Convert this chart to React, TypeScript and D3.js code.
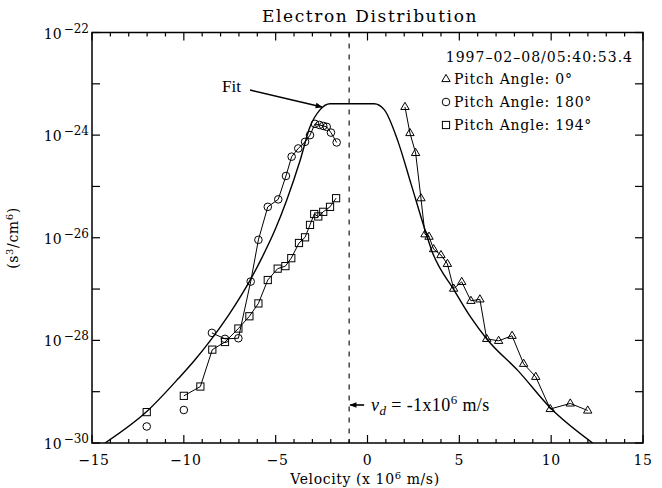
import * as d3 from "d3";

// velocity in 10^6 m/s, phase space density in s^3/cm^6
const pa0V = [2.04, 2.31, 2.62, 2.91, 3.13, 3.35, 3.6, 4.0, 4.35, 4.69, 5.13, 5.63, 6.12, 6.49, 7.14, 7.87, 8.5, 9.16, 9.95, 11.04, 11.99];
const pa0F = [3.55e-24, 1.1e-24, 4.5e-25, 5.9e-26, 1.17e-26, 1.05e-26, 6.0e-27, 4.6e-27, 3.1e-27, 1.02e-27, 1.38e-27, 5.9e-28, 6.3e-28, 1.07e-28, 9.8e-29, 1.23e-28, 3.5e-29, 1.95e-29, 4.6e-30, 5.9e-30, 4.3e-30];

const pa180V = [-12.02, -10.0, -8.47, -7.76, -7.03, -6.36, -5.94, -5.43, -4.86, -4.44, -4.13, -3.77, -3.4, -3.13, -2.86, -2.62, -2.41, -2.22, -1.99, -1.68];
const pa180F = [2.1e-30, 4.4e-30, 1.4e-28, 1.07e-28, 1.1e-28, 1.4e-27, 9.1e-27, 4.0e-26, 5.6e-26, 1.6e-25, 3.8e-25, 5.5e-25, 7.4e-25, 1.0e-24, 1.66e-24, 1.58e-24, 1.51e-24, 1.45e-24, 1.12e-24, 7.2e-25];
const pa180LineFrom = 2; // first two points are not joined

const pa194V = [-12.02, -10.0, -9.1, -8.45, -7.76, -7.03, -6.43, -5.94, -5.43, -4.89, -4.47, -4.15, -3.73, -3.4, -3.13, -2.9, -2.68, -2.41, -2.04, -1.71];
const pa194F = [4.0e-30, 8.3e-30, 1.26e-29, 6.6e-29, 9.3e-29, 1.7e-28, 2.95e-28, 5.25e-28, 1.5e-27, 2.5e-27, 2.8e-27, 4.0e-27, 7.9e-27, 1.02e-26, 1.78e-26, 2.9e-26, 2.6e-26, 3.2e-26, 4.0e-26, 5.9e-26];
const pa194LineFrom = 1;

const fitV = [-14.29, -12.02, -10.3, -9.39, -8.57, -7.58, -6.85, -6.38, -5.76, -5.04, -4.4, -3.67, -3.13, -2.59, -2.04, -1.0, 0.36, 0.92, 1.64, 2.37, 3.09, 3.5, 4.72, 5.6, 6.54, 8.18, 9.99, 12.26];
const fitF = [1.0e-30, 4.1e-30, 1.8e-29, 4.2e-29, 9.8e-29, 3.05e-28, 7.8e-28, 1.51e-27, 4.0e-27, 1.41e-26, 5.4e-26, 3.2e-25, 1.45e-24, 3.1e-24, 4.1e-24, 4.1e-24, 4.1e-24, 3.1e-24, 7.9e-25, 1.12e-25, 1.58e-26, 5.6e-27, 9.5e-28, 2.9e-28, 1.02e-28, 2.6e-29, 4.7e-30, 1.0e-30];

const driftV = -1;
const xMajor = [-15, -10, -5, 0, 5, 10, 15];
const xMajorLabels = ["\u221215", "\u221210", "\u22125", "0", "5", "10", "15"];
const yDecades = [-30, -29, -28, -27, -26, -25, -24, -23, -22];
const yLabelled = [-30, -28, -26, -24, -22];

const legendLabels = ["Pitch Angle: 0\u00b0", "Pitch Angle: 180\u00b0", "Pitch Angle: 194\u00b0"];

const width = 662;
const height = 488;
const left = 92;
const right = 643;
const top = 32.5;
const bottom = 443;
const serif = "'DejaVu Serif', serif";
const times = "'Liberation Serif', serif";

function Marker({ kind, cx, cy }: { kind: string; cx: number; cy: number }) {
  if (kind === "tri")
    return <path d={`M${cx},${cy - 4.6}L${cx + 4.2},${cy + 2.6}L${cx - 4.2},${cy + 2.6}Z`} />;
  if (kind === "circ") return <circle cx={cx} cy={cy} r={3.8} />;
  return <rect x={cx - 3.6} y={cy - 3.6} width={7.2} height={7.2} />;
}

export default function App() {
  const x = d3.scaleLinear([-15, 15], [left, right]);
  const y = d3.scaleLog([1e-30, 1e-22], [bottom, top]);

  const line = d3
    .line<[number, number]>()
    .x((d) => x(d[0]))
    .y((d) => y(d[1]));
  const fitLine = d3
    .line<[number, number]>()
    .x((d) => x(d[0]))
    .y((d) => y(d[1]))
    .curve(d3.curveMonotoneX);

  const zip = (a: number[], b: number[]) => a.map((v, i) => [v, b[i]] as [number, number]);
  const pa0 = zip(pa0V, pa0F);
  const pa180 = zip(pa180V, pa180F);
  const pa194 = zip(pa194V, pa194F);
  const fit = zip(fitV, fitF);

  const minor = d3.range(-15, 16, 1);
  const xd = x(driftV);

  return (
    <svg
      width={width}
      height={height}
      style={{ position: "absolute", left: 0, top: 0, background: "#fff" }}
    >
      <defs>
        <clipPath id="plot">
          <rect x={left} y={top} width={right - left} height={bottom - top} />
        </clipPath>
        <marker id="head" viewBox="0 0 10 10" refX="9" refY="5" markerWidth="10" markerHeight="7" orient="auto" markerUnits="userSpaceOnUse">
          <path d="M0,1L10,5L0,9Z" fill="#000" />
        </marker>
      </defs>

      <text x={370} y={22} textAnchor="middle" fontFamily={serif} fontSize={17} letterSpacing={1.6}>
        Electron Distribution
      </text>

      {/* ticks */}
      <g stroke="#000" strokeWidth={1.2}>
        {minor.map((v) => {
          const len = v % 5 === 0 ? 8 : 4;
          return (
            <g key={v}>
              <line x1={x(v)} x2={x(v)} y1={bottom} y2={bottom - len} />
              <line x1={x(v)} x2={x(v)} y1={top} y2={top + len} />
            </g>
          );
        })}
        {yDecades.map((e) => (
          <g key={e}>
            <line x1={left} x2={left + 8} y1={y(Math.pow(10, e))} y2={y(Math.pow(10, e))} />
            <line x1={right} x2={right - 8} y1={y(Math.pow(10, e))} y2={y(Math.pow(10, e))} />
          </g>
        ))}
      </g>

      {/* frame */}
      <rect x={left} y={top} width={right - left} height={bottom - top} fill="none" stroke="#000" strokeWidth={1.5} />

      {/* tick labels */}
      <g fontFamily={serif} fontSize={14} textAnchor="middle" letterSpacing={0.5}>
        {xMajor.map((v, i) => (
          <text key={v} x={x(v) + (v < 0 ? 2 : 0)} y={465}>
            {xMajorLabels[i]}
          </text>
        ))}
      </g>
      <g fontFamily={serif} textAnchor="end">
        {yLabelled.map((e) => (
          <text key={e} x={89} y={y(Math.pow(10, e)) + 6}>
            <tspan fontSize={14}>10</tspan>
            <tspan fontSize={12} dy={-6} dx={2}>
              {"\u2212" + Math.abs(e)}
            </tspan>
          </text>
        ))}
      </g>

      {/* axis titles */}
      <text x={365} y={484} textAnchor="middle" fontFamily={serif} fontSize={14} letterSpacing={0.6}>
        Velocity (x 10
        <tspan fontSize={10} dy={-5}>6</tspan>
        <tspan dy={5}> m/s)</tspan>
      </text>
      <text
        transform="translate(18,238) rotate(-90)"
        textAnchor="middle"
        fontFamily={serif}
        fontSize={14}
        letterSpacing={0.6}
      >
        (s<tspan fontSize={10} dy={-5}>3</tspan>
        <tspan dy={5}>/cm</tspan>
        <tspan fontSize={10} dy={-5}>6</tspan>
        <tspan dy={5}>)</tspan>
      </text>

      {/* drift velocity */}
      <line x1={xd} x2={xd} y1={top} y2={bottom} stroke="#000" strokeWidth={1.1} strokeDasharray="5,6" />
      <line x1={xd + 15} x2={xd + 1} y1={405} y2={405} stroke="#000" strokeWidth={1.6} markerEnd="url(#head)" />
      <text x={371} y={411} fontFamily={times} fontSize={18} letterSpacing={0.4}>
        <tspan fontStyle="italic">v</tspan>
        <tspan fontStyle="italic" fontSize={13} dy={4}>d</tspan>
        <tspan dy={-4}> = -1x10</tspan>
        <tspan fontSize={13} dy={-7}>6</tspan>
        <tspan dy={7}> m/s</tspan>
      </text>

      {/* fit */}
      <g clipPath="url(#plot)">
        <path d={fitLine(fit) ?? ""} fill="none" stroke="#000" strokeWidth={1.4} />
      </g>
      <text x={222} y={92} fontFamily={times} fontSize={17}>
        Fit
      </text>
      <line x1={250} y1={90} x2={322} y2={107} stroke="#000" strokeWidth={1.5} markerEnd="url(#head)" />

      {/* data */}
      <g fill="none" stroke="#000" strokeWidth={1}>
        <path d={line(pa0) ?? ""} />
        <path d={line(pa180.slice(pa180LineFrom)) ?? ""} />
        <path d={line(pa194.slice(pa194LineFrom)) ?? ""} />
        {pa0.map((d, i) => (
          <Marker key={"t" + i} kind="tri" cx={x(d[0])} cy={y(d[1])} />
        ))}
        {pa180.map((d, i) => (
          <Marker key={"c" + i} kind="circ" cx={x(d[0])} cy={y(d[1])} />
        ))}
        {pa194.map((d, i) => (
          <Marker key={"s" + i} kind="sq" cx={x(d[0])} cy={y(d[1])} />
        ))}
      </g>

      {/* legend */}
      <text x={633} y={62} textAnchor="end" fontFamily={serif} fontSize={14} letterSpacing={1}>
        1997–02–08/05:40:53.4
      </text>
      {legendLabels.map((lab, i) => {
        const ly = 84 + i * 23;
        return (
          <g key={lab}>
            <g fill="none" stroke="#000" strokeWidth={1}>
              <Marker kind={["tri", "circ", "sq"][i]} cx={446} cy={ly - 5} />
            </g>
            <text x={454} y={ly} fontFamily={serif} fontSize={14} letterSpacing={0.8}>
              {lab}
            </text>
          </g>
        );
      })}
    </svg>
  );
}
